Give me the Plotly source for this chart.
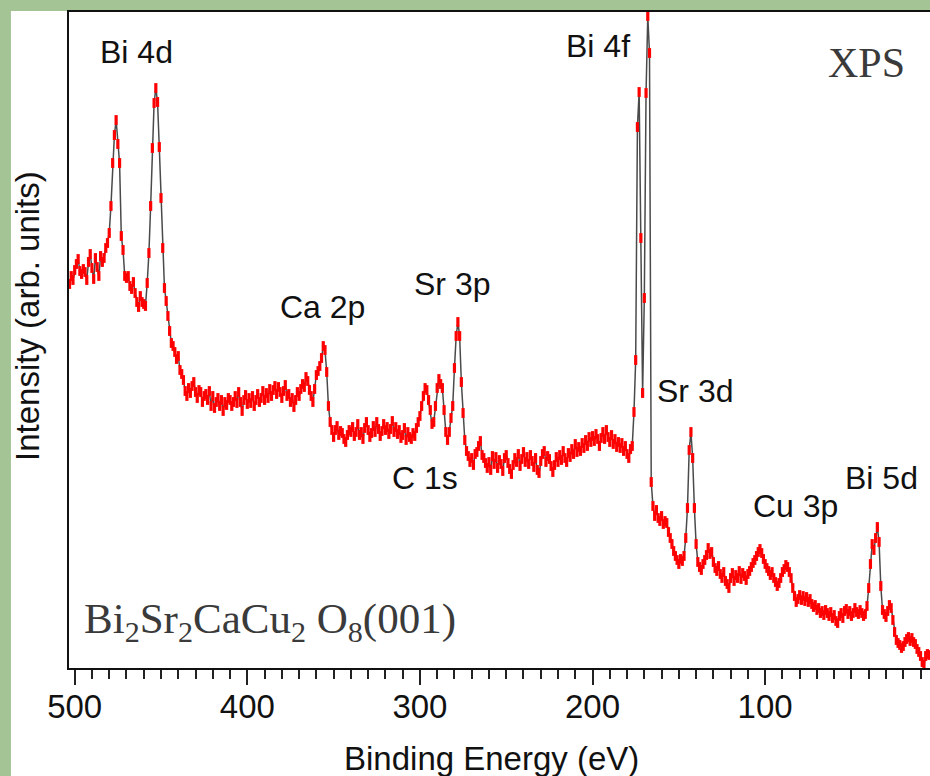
import plotly.graph_objects as go

# ---------------------------------------------------------------------------
# XPS survey spectrum of Bi2Sr2CaCu2O8(001), sampled every 1 eV.
# Each region: (first energy, last energy) in eV and the measured intensity
# (arbitrary units) at each step, highest binding energy first.
# ---------------------------------------------------------------------------
bi4d_span = (503, 421)
bi4d_counts = [
    384, 392, 388, 398,
    404, 409, 397, 394, 399, 396, 388, 406, 414, 400,
    389, 410, 401, 392, 412, 406, 410, 420, 425, 435,
    462, 505, 533, 548, 524, 505, 432, 418, 392, 390,
    392, 382, 379, 386, 375, 366, 361, 372, 366, 364,
    362, 385, 415, 462, 520, 565, 580, 566, 521, 470,
    420, 380, 367, 352, 337, 325, 322, 316, 309, 312,
    298, 294, 288, 277, 272, 280, 275, 282, 286, 276,
    270, 278, 276, 266, 272, 274, 268, 277, 262,
]

ca2p_span = (420, 341)
ca2p_counts = [
    272, 260, 266, 270, 262, 268, 257, 266, 263, 270,
    268, 262, 266, 272, 265, 276, 266, 257, 268, 273,
    264, 270, 265, 272, 262, 268, 274, 266, 270, 277,
    268, 275, 270, 279, 272, 278, 282, 274, 281, 276,
    270, 277, 283, 272, 274, 266, 270, 261, 268, 276,
    272, 279, 284, 281, 291, 287, 278, 272, 266, 279,
    293, 297, 302, 310, 322, 318, 296, 262, 246, 238,
    231, 238, 242, 233, 237, 235, 229, 226, 233, 238,
]

sr3p_c1s_span = (340, 261)
sr3p_c1s_counts = [
    236, 241, 232, 236, 244, 233, 236, 229, 240, 246,
    238, 231, 235, 242, 236, 246, 239, 232, 237, 244,
    238, 241, 234, 239, 247, 236, 241, 234, 238, 230,
    233, 240, 228, 236, 231, 229, 235, 232, 240, 246,
    252, 262, 272, 280, 278, 268, 258, 244, 246, 262,
    280, 289, 284, 280, 258, 236, 228, 236, 250, 262,
    300, 332, 346, 332, 286, 255, 228, 217, 212, 206,
    210, 203, 214, 216, 222, 227, 213, 210, 205, 200,
]

bi4f_span = (260, 151)
bi4f_counts = [
    206, 198, 212, 204, 211, 200, 208, 204, 197, 210,
    213, 205, 199, 194, 203, 210, 206, 214, 202, 209,
    216, 206, 211, 204, 213, 207, 201, 210, 198, 195,
    207, 214, 217, 206, 212, 209, 202, 196, 203, 211,
    206, 213, 208, 217, 210, 206, 215, 211, 219, 214,
    224, 216, 221, 217, 225, 220, 228, 222, 231, 226,
    232, 227, 234, 229, 222, 230, 236, 229, 238, 231,
    226, 233, 224, 229, 221, 226, 220, 225, 217, 222,
    214, 210, 219, 222, 256, 308, 541, 576, 430, 275,
    370, 575, 652, 615, 186, 162, 152, 158, 150, 147,
    152, 144, 147, 145, 136, 130, 124, 117, 112, 108,
]

sr3d_cu3p_span = (150, 61)
sr3d_cu3p_counts = [
    104, 109, 107, 112, 130, 160, 218, 236, 210, 160,
    124, 106, 101, 98, 104, 108, 113, 120, 114, 116,
    106, 100, 97, 102, 94, 90, 96, 87, 84, 80,
    90, 95, 87, 93, 90, 97, 89, 95, 92, 88,
    94, 97, 101, 105, 108, 112, 116, 119, 115, 109,
    104, 100, 97, 93, 96, 90, 86, 82, 85, 90,
    96, 99, 103, 101, 96, 90, 80, 72, 66, 69,
    73, 68, 72, 67, 71, 66, 69, 64, 61, 63,
    58, 60, 55, 57, 53, 58, 55, 52, 56, 50,
]

bi5d_span = (60, 5)
bi5d_counts = [
    53, 47, 45, 52, 55, 50, 57, 59, 54, 57,
    52, 55, 60, 56, 54, 58, 55, 52, 54, 62,
    80, 104, 124, 118, 130, 141, 126, 82, 58, 54,
    51, 57, 63, 60, 48, 36, 28, 25, 23, 20,
    22, 26, 29, 31, 27, 30, 26, 24, 19, 16,
    12, 6, 3, 12, 14, 13,
]

x_tick_values = [500, 400, 300, 200, 100]

# Core-level labels and sample name
peak_labels = ["Bi 4d", "Bi 4f", "Ca 2p", "Sr 3p", "C 1s", "Sr 3d", "Cu 3p", "Bi 5d"]
sample_name = "Bi<sub>2</sub>Sr<sub>2</sub>CaCu<sub>2</sub> O<sub>8</sub>(001)"
technique = "XPS"

# ---------------------------------------------------------------------------
# assemble the full spectrum
# ---------------------------------------------------------------------------
segments = [
    (bi4d_span, bi4d_counts),
    (ca2p_span, ca2p_counts),
    (sr3p_c1s_span, sr3p_c1s_counts),
    (bi4f_span, bi4f_counts),
    (sr3d_cu3p_span, sr3d_cu3p_counts),
    (bi5d_span, bi5d_counts),
]
energy, intensity = [], []
for (e_hi, e_lo), vals in segments:
    e = list(range(e_hi, e_lo - 1, -1))
    assert len(e) == len(vals), (e_hi, len(e), len(vals))
    energy += e
    intensity += vals

SANS = "Liberation Sans, Arial, Helvetica, sans-serif"
SERIF = "Liberation Serif, Times New Roman, serif"

fig = go.Figure()
fig.add_trace(go.Scatter(
    x=energy, y=intensity, mode="lines+markers",
    line=dict(color="#4a4a4a", width=1.5),
    marker=dict(symbol="line-ns", size=7, color="#ff0000",
                line=dict(color="#ff0000", width=3.2)),
    hoverinfo="x+y", showlegend=False,
))

# label placement: (energy, intensity level)
label_pos = {
    "Bi 4d": (464.2, 616),
    "Bi 4f": (197.1, 622),
    "Ca 2p": (356.7, 361),
    "Sr 3p": (281.7, 384),
    "C 1s": (296.8, 190),
    "Sr 3d": (140.6, 277),
    "Cu 3p": (82.4, 162),
    "Bi 5d": (32.8, 190),
}
annotations = []
for name in peak_labels:
    ex, iy = label_pos[name]
    annotations.append(dict(
        x=ex, y=iy, xref="x", yref="y", text=name, showarrow=False,
        xanchor="center", yanchor="middle",
        font=dict(family=SANS, size=32, color="#111111"),
    ))
annotations.append(dict(
    x=41.3, y=605, xref="x", yref="y", text=technique, showarrow=False,
    xanchor="center", yanchor="middle",
    font=dict(family=SERIF, size=42, color="#3a3a3a"),
))
annotations.append(dict(
    x=495.6, y=46, xref="x", yref="y", text=sample_name, showarrow=False,
    xanchor="left", yanchor="middle",
    font=dict(family=SERIF, size=43, color="#3a3a3a"),
))
# axis titles
annotations.append(dict(
    x=0.4907, y=-0.1372, xref="paper", yref="paper",
    text="Binding Energy (eV)", showarrow=False,
    xanchor="center", yanchor="middle",
    font=dict(family=SANS, size=33, color="#111111"),
))
annotations.append(dict(
    x=-0.0476, y=0.5366, xref="paper", yref="paper",
    text="Intensity (arb. units)", showarrow=False, textangle=-90,
    xanchor="center", yanchor="middle",
    font=dict(family=SANS, size=33, color="#111111"),
))

fig.update_layout(
    width=930, height=776, autosize=False,
    margin=dict(l=69, r=0, t=12, b=108, pad=0),
    paper_bgcolor="#a4c496",
    plot_bgcolor="#ffffff",
    showlegend=False,
    annotations=annotations,
    shapes=[dict(
        type="rect", xref="paper", yref="paper",
        x0=-0.0674, x1=1.01, y0=-0.17, y1=1.0015,
        fillcolor="#ffffff", line=dict(width=0), layer="below",
    )],
    xaxis=dict(
        range=[503.3, 4.5], showgrid=False, zeroline=False,
        showline=True, linecolor="#111111", linewidth=2, mirror=True,
        tickmode="array", tickvals=x_tick_values,
        ticks="outside", ticklen=15, tickwidth=1.5, tickcolor="#222222",
        ticklabelstandoff=-7,
        minor=dict(dtick=10, tick0=0, ticks="outside", ticklen=9,
                   tickwidth=1.5, tickcolor="#222222", showgrid=False),
        tickfont=dict(family=SANS, size=33, color="#111111"),
    ),
    yaxis=dict(
        range=[0, 656], showgrid=False, zeroline=False,
        showline=True, linecolor="#111111", linewidth=2, mirror=False,
        showticklabels=False, ticks="",
    ),
)

fig.write_html("out.html")
